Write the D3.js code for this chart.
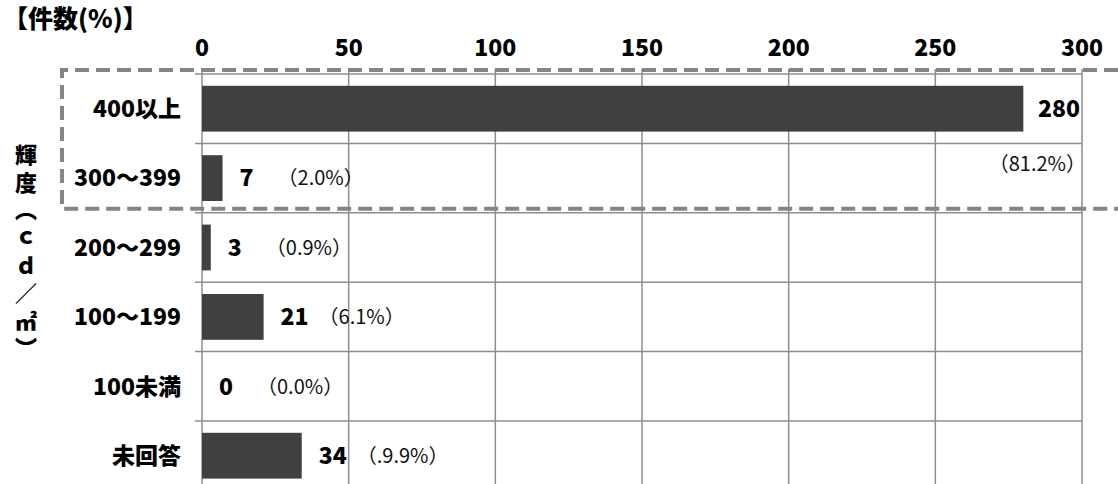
<!DOCTYPE html>
<html>
<head>
<meta charset="utf-8">
<script src="https://cdn.jsdelivr.net/npm/d3@7"></script>
<style>
body { margin: 0; background: #fff; }
text { font-family: "Noto Sans CJK JP", "Liberation Sans", sans-serif; }
</style>
</head>
<body>
<div id="chart"></div>
<script>
// データ
var categories = ["400以上", "300～399", "200～299", "100～199", "100未満", "未回答"];
var counts = [280, 7, 3, 21, 0, 34];
var pctLabels = ["（81.2%）", "（2.0%）", "（0.9%）", "（6.1%）", "（0.0%）", "（.9.9%）"];
var xTicks = [0, 50, 100, 150, 200, 250, 300];

var svgWidth = 1118, svgHeight = 484;
var margin = { top: 74, left: 202, right: 36 };
var rowH = 69.4;
var plotH = rowH * categories.length;

var svg = d3.select("#chart").append("svg")
    .attr("width", svgWidth)
    .attr("height", svgHeight);

var x = d3.scaleLinear().domain([0, 300]).range([margin.left, svgWidth - margin.right]);
var y = d3.scaleBand().domain(categories).range([margin.top, margin.top + plotH]).paddingInner(0.34).paddingOuter(0.17);

var gridColor = "#8e8e8e";

// 縦グリッド
svg.append("g").selectAll("line").data(xTicks).join("line")
    .attr("x1", function (d) { return x(d); })
    .attr("x2", function (d) { return x(d); })
    .attr("y1", margin.top - 5)
    .attr("y2", margin.top + plotH)
    .attr("stroke", gridColor).attr("stroke-width", 1.5);

// 横グリッド
var rowEdges = d3.range(categories.length + 1).map(function (i) { return margin.top + i * rowH; });
svg.append("g").selectAll("line").data(rowEdges).join("line")
    .attr("x1", margin.left - 7)
    .attr("x2", x(300))
    .attr("y1", function (d) { return d; })
    .attr("y2", function (d) { return d; })
    .attr("stroke", gridColor).attr("stroke-width", 1.5);

// 上の目盛ラベル
svg.append("g").selectAll("text").data(xTicks).join("text")
    .attr("x", function (d) { return x(d); })
    .attr("y", 56)
    .attr("text-anchor", "middle")
    .attr("font-size", 23).attr("font-weight", 900)
    .text(function (d) { return d; });

// バー
svg.append("g").selectAll("rect").data(counts).join("rect")
    .attr("x", x(0))
    .attr("y", function (d, i) { return y(categories[i]); })
    .attr("width", function (d) { return x(d) - x(0); })
    .attr("height", y.bandwidth())
    .attr("fill", "#404040");

// カテゴリラベル
svg.append("g").selectAll("text").data(categories).join("text")
    .attr("x", 181)
    .attr("y", function (d) { return y(d) + y.bandwidth() / 2; })
    .attr("dy", "0.36em")
    .attr("text-anchor", "end")
    .attr("font-size", 23).attr("font-weight", 900)
    .text(function (d) { return d; });

// 件数ラベル
svg.append("g").selectAll("text").data(counts).join("text")
    .attr("x", function (d, i) { return i === 0 ? x(300) - 2 : x(d) + 17; })
    .attr("y", function (d, i) { return y(categories[i]) + y.bandwidth() / 2; })
    .attr("dy", "0.36em")
    .attr("text-anchor", function (d, i) { return i === 0 ? "end" : "start"; })
    .attr("font-size", 23).attr("font-weight", 900)
    .text(function (d) { return d; });

// 割合ラベル
svg.append("g").selectAll("text").data(pctLabels).join("text")
    .attr("x", function (d, i) { return i === 0 ? x(300) + 4 : x(counts[i]) + 55; })
    .attr("y", function (d, i) {
        var cy = y(categories[i]) + y.bandwidth() / 2;
        return i === 0 ? cy + 55 : cy;
    })
    .attr("dy", "0.36em")
    .attr("text-anchor", function (d, i) { return i === 0 ? "end" : "start"; })
    .attr("font-size", 20).attr("fill", "#111")
    .text(function (d) { return d; });

// 破線の枠
svg.append("path")
    .attr("d", "M" + svgWidth + "," + (margin.top - 4) + "H62V" + (margin.top + 2 * rowH - 4) + "H" + svgWidth)
    .attr("fill", "none")
    .attr("stroke", "#858585")
    .attr("stroke-width", 4)
    .attr("stroke-dasharray", "14,7");

// タイトル
svg.append("text")
    .attr("x", 3).attr("y", 28)
    .attr("font-size", 25).attr("font-weight", 900)
    .text("【件数(%)】");

// 縦軸タイトル
svg.append("text")
    .attr("x", 26).attr("y", 144)
    .attr("writing-mode", "tb")
    .attr("font-size", 22).attr("font-weight", 900)
    .attr("letter-spacing", 5.5)
    .text("輝度（ｃｄ／㎡）");
</script>
</body>
</html>
